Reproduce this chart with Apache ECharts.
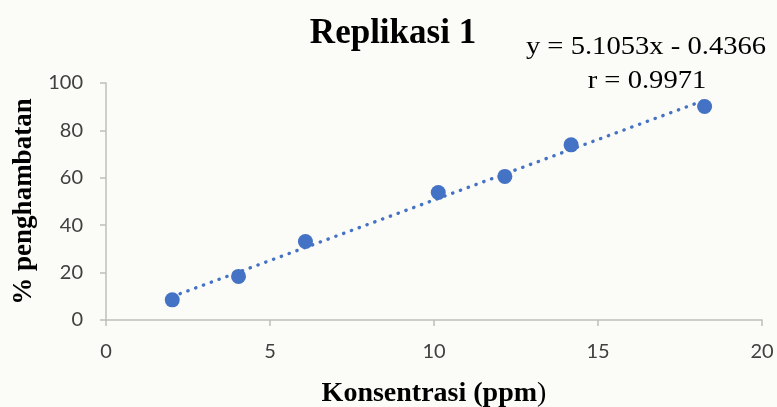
<!DOCTYPE html>
<html>
<head>
<meta charset="utf-8">
<script src="https://cdn.jsdelivr.net/npm/echarts@6/dist/echarts.min.js"></script>
<style>
html,body{margin:0;padding:0;background:#fbfbf7;}
#chart{width:777px;height:407px;}
</style>
</head>
<body>
<div id="chart"></div>
<script>
// Data
var concentration = [2.02, 4.04, 6.08, 10.13, 12.16, 14.18, 18.25];
var inhibition = [8.5, 18.4, 33.1, 53.8, 60.6, 73.9, 90.1];
var xTicks = [0, 5, 10, 15, 20];
var yTicks = [0, 20, 40, 60, 80, 100];
var slope = 5.1053;
var intercept = -0.4366;
var rValue = 0.9971;
var titleText = 'Replikasi 1';
var xName = 'Konsentrasi (ppm';
var yName = '% penghambatan';

var points = concentration.map(function (x, i) { return [x, inhibition[i]]; });
var xFirst = concentration[0], xLast = concentration[concentration.length - 1];
var trend = [[xFirst, slope * xFirst + intercept], [xLast, slope * xLast + intercept]];

var chart = echarts.init(document.getElementById('chart'), null, {renderer: 'canvas'});
var serif = '"Liberation Serif", "Times New Roman", serif';
chart.setOption({
  backgroundColor: '#fbfbf7',
  animation: false,
  title: {
    text: titleText,
    left: 388, top: 11, textAlign: 'center',
    textStyle: {fontFamily: serif, fontWeight: 'bold', fontSize: 35, color: '#000'}
  },
  graphic: [
    {type: 'text', x: 646, y: 47, scaleX: 1.1, style: {
      text: 'y = ' + slope + 'x - ' + Math.abs(intercept),
      font: '26px ' + serif, fill: '#000', textAlign: 'center', textVerticalAlign: 'middle'}},
    {type: 'text', x: 647, y: 81, scaleX: 1.1, style: {
      text: 'r = ' + rValue,
      font: '26px ' + serif, fill: '#000', textAlign: 'center', textVerticalAlign: 'middle'}}
  ],
  grid: {left: 106, right: 15, top: 83, bottom: 87, containLabel: false, outerBoundsMode: 'none'},
  xAxis: {
    type: 'value', min: 0, max: 20, interval: 5,
    name: '{b|' + xName + '}{n|)}', nameLocation: 'middle', nameGap: 60,
    nameTextStyle: {
      rich: {
        b: {fontFamily: serif, fontWeight: 'bold', fontSize: 28, color: '#000'},
        n: {fontFamily: serif, fontWeight: 'normal', fontSize: 28, color: '#000'}
      }
    },
    axisLine: {show: true, lineStyle: {color: '#bfbfbf', width: 1.5}},
    axisTick: {show: true, length: 6, lineStyle: {color: '#bfbfbf', width: 1.5}},
    axisLabel: {margin: 22, fontFamily: 'Lato, "Open Sans", sans-serif', fontSize: 20, color: '#404040',
      formatter: function (v) { return xTicks.indexOf(v) >= 0 ? String(v) : ''; }},
    splitLine: {show: false}
  },
  yAxis: {
    type: 'value', min: 0, max: 100, interval: 20,
    name: yName, nameLocation: 'middle', nameGap: 66, nameRotate: 90,
    nameTextStyle: {fontFamily: serif, fontWeight: 'bold', fontSize: 27, color: '#000'},
    axisLine: {show: true, lineStyle: {color: '#bfbfbf', width: 1.5}},
    axisTick: {show: true, length: 6, lineStyle: {color: '#bfbfbf', width: 1.5}},
    axisLabel: {margin: 23, fontFamily: 'Lato, "Open Sans", sans-serif', fontSize: 20, color: '#404040',
      formatter: function (v) { return yTicks.indexOf(v) >= 0 ? String(v) : ''; }},
    splitLine: {show: false}
  },
  series: [
    {
      type: 'line', data: trend, symbol: 'none', silent: true, z: 1,
      lineStyle: {color: '#4472C4', width: 3.4, type: [0.3, 8], cap: 'round'}
    },
    {
      type: 'scatter', data: points, symbol: 'circle', symbolSize: 15, z: 2,
      itemStyle: {color: '#4472C4', opacity: 1}
    }
  ]
});
</script>
</body>
</html>
